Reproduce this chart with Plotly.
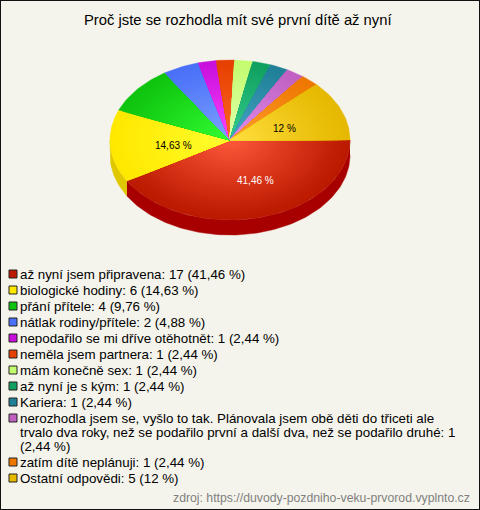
import math
import plotly.graph_objects as go

title = "Proč jste se rozhodla mít své první dítě až nyní"
source = "zdroj: https://duvody-pozdniho-veku-prvorod.vyplnto.cz"
counts = [17, 6, 4, 2, 1, 1, 1, 1, 1, 1, 1, 5]
categories = [
    ["až nyní jsem připravena: 17 (41,46 %)"],
    ["biologické hodiny: 6 (14,63 %)"],
    ["přání přítele: 4 (9,76 %)"],
    ["nátlak rodiny/přítele: 2 (4,88 %)"],
    ["nepodařilo se mi dříve otěhotnět: 1 (2,44 %)"],
    ["neměla jsem partnera: 1 (2,44 %)"],
    ["mám konečně sex: 1 (2,44 %)"],
    ["až nyní je s kým: 1 (2,44 %)"],
    ["Kariera: 1 (2,44 %)"],
    ["nerozhodla jsem se, vyšlo to tak. Plánovala jsem obě děti do třiceti ale",
     "trvalo dva roky, než se podařilo první a další dva, než se podařilo druhé: 1",
     "(2,44 %)"],
    ["zatím dítě neplánuji: 1 (2,44 %)"],
    ["Ostatní odpovědi: 5 (12 %)"],
]
edge_colors = ["#bc1a00", "#ffe800", "#0fc40f", "#4a70f8", "#c810dc", "#e64000",
               "#c4fc70", "#10a060", "#208098", "#c060c0", "#ee7700", "#e6b800"]
center_colors = ["#ff5a3c", "#ffff30", "#33ff33", "#7fa4ff", "#ff48ff", "#ff6a28",
                 "#e2ffb0", "#38d090", "#48a8c8", "#e090f0", "#ffa030", "#ffe040"]
side_colors = ["#a80000", "#e0c800"]
slice_labels = {0: "41,46 %", 1: "14,63 %", 11: "12 %"}
label_colors = {0: "#ffffff", 1: "#000000", 11: "#000000"}
label_nudge = {0: (6, -6), 1: (15, 2), 11: (-12, 6)}

CX, CY, RX, RY, DEPTH = 230, 140, 120, 80, 15
RINGS = 30
BG = "#f5f4ec"


def rgb(h):
    return [int(h[i:i + 2], 16) for i in (1, 3, 5)]


def mix(a, b, t):
    a, b = rgb(a), rgb(b)
    return "rgb(%d,%d,%d)" % tuple(round(a[i] + (b[i] - a[i]) * t) for i in range(3))


def arc(a0, a1, f=1.0, dy=0):
    n = max(2, int(abs(a1 - a0) / 1.5))
    xs, ys = [], []
    for k in range(n + 1):
        a = math.radians(a0 + (a1 - a0) * k / n)
        xs.append(CX + RX * f * math.cos(a))
        ys.append(CY + dy + RY * f * math.sin(a))
    return xs, ys


total = sum(counts)
bounds = [0.0]
for c in counts:
    bounds.append(bounds[-1] + 360.0 * c / total)

fig = go.Figure()

# side wall
for i, c in enumerate(counts):
    a0, a1 = bounds[i], min(bounds[i + 1], 180)
    if a0 >= 180:
        continue
    tx, ty = arc(a0, a1)
    bx, by = arc(a1, a0, dy=DEPTH)
    fig.add_trace(go.Scatter(x=tx + bx, y=ty + by, mode="lines", fill="toself",
                             fillcolor=side_colors[i], line=dict(width=0.5, color=side_colors[i]),
                             hoverinfo="skip", showlegend=False))

# top surface: concentric wedges give the radial gradient
for i, c in enumerate(counts):
    for r in range(RINGS):
        f = 1 - r / RINGS
        col = mix(edge_colors[i], center_colors[i], (1 - f) ** 1.1 if f < 1 else 0)
        ax, ay = arc(bounds[i], bounds[i + 1], f)
        fig.add_trace(go.Scatter(x=[CX] + ax + [CX], y=[CY] + ay + [CY], mode="lines",
                                 fill="toself", fillcolor=col,
                                 line=dict(width=0.4, color=col),
                                 hoverinfo="skip", showlegend=False))

ann = []
for i, text in slice_labels.items():
    mid = math.radians((bounds[i] + bounds[i + 1]) / 2)
    dx, dy = label_nudge[i]
    ann.append(dict(x=CX + 0.6 * RX * math.cos(mid) + dx, y=CY + 0.6 * RY * math.sin(mid) + dy,
                    text=text, showarrow=False, xanchor="center", yanchor="middle",
                    font=dict(family="Liberation Sans", size=10, color=label_colors[i])))

ann.append(dict(x=238, y=20, text=title, showarrow=False, xanchor="center", yanchor="middle",
                font=dict(family="Liberation Sans", size=14.8, color="#000000")))

# legend
y = 274
sx, sy, sc = [], [], []
for i, lines in enumerate(categories):
    sx.append(13)
    sy.append(y)
    sc.append(edge_colors[i])
    for j, line in enumerate(lines):
        ann.append(dict(x=18, y=y + j * 14, text=line, showarrow=False, xanchor="left",
                        yanchor="middle",
                        font=dict(family="Liberation Sans", size=13.33, color="#000000")))
    y += 16 + (len(lines) - 1) * 14
fig.add_trace(go.Scatter(x=sx, y=sy, mode="markers",
                         marker=dict(symbol="square", size=8, color=sc,
                                     line=dict(width=1, color="#222222")),
                         hoverinfo="skip", showlegend=False))

ann.append(dict(x=472, y=498, text=source, showarrow=False, xanchor="right", yanchor="middle",
                font=dict(family="Liberation Sans", size=12.25, color="#808080")))

fig.update_layout(
    width=480, height=510, autosize=False,
    margin=dict(l=0, r=0, t=0, b=0),
    paper_bgcolor=BG, plot_bgcolor=BG,
    xaxis=dict(range=[0, 480], visible=False, fixedrange=True),
    yaxis=dict(range=[510, 0], visible=False, fixedrange=True),
    annotations=ann,
    shapes=[dict(type="rect", xref="paper", yref="paper", x0=0, y0=0, x1=1, y1=1,
                 line=dict(color="#111111", width=2), fillcolor="rgba(0,0,0,0)")],
)
fig.write_html("out.html", config=dict(displayModeBar=False),
               post_script="document.body.style.margin='0';document.documentElement.style.overflow='hidden';")
